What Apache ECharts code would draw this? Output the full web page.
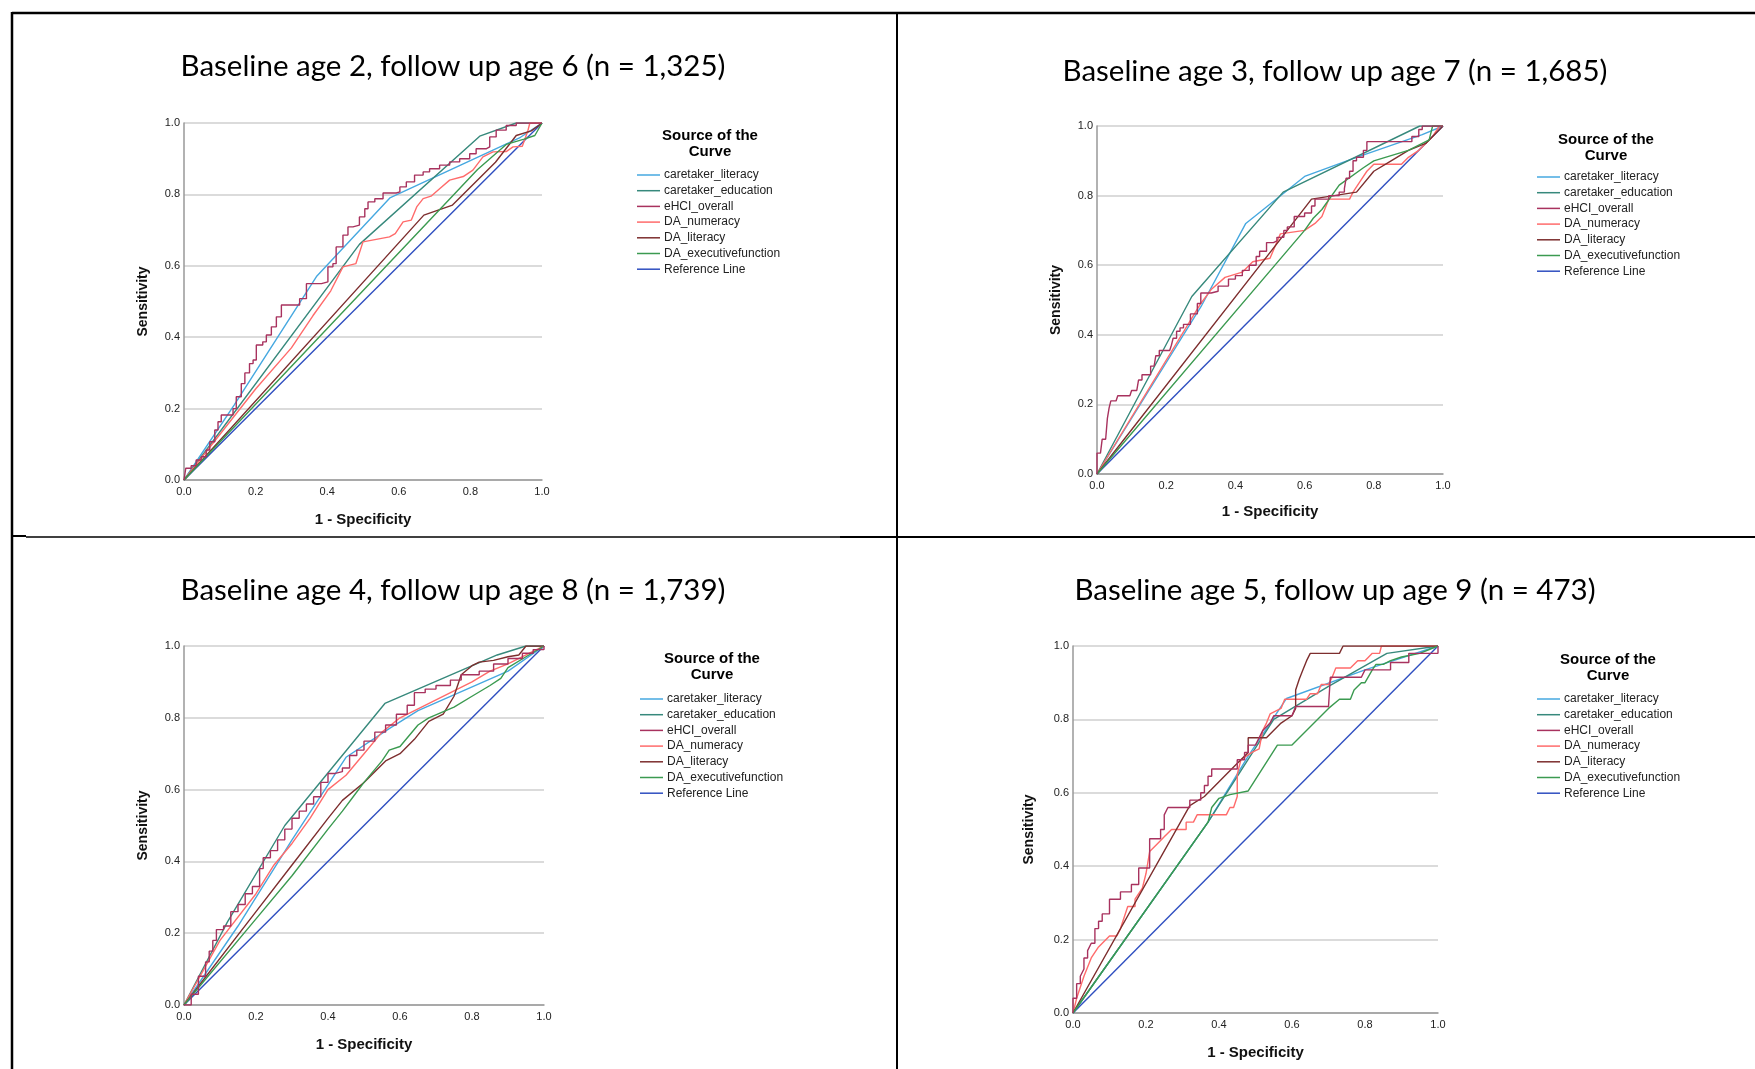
<!DOCTYPE html>
<html>
<head>
<meta charset="utf-8">
<script src="https://cdn.jsdelivr.net/npm/echarts@6/dist/echarts.min.js"></script>
<style>
html,body{margin:0;padding:0;background:#fff;}
#chart{width:1755px;height:1069px;}
</style>
</head>
<body>
<div id="chart"></div>
<script>
// ---------- DATA ----------
const panelTitles = [
  "Baseline age 2, follow up age 6 (n = 1,325)",
  "Baseline age 3, follow up age 7 (n = 1,685)",
  "Baseline age 4, follow up age 8 (n = 1,739)",
  "Baseline age 5, follow up age 9 (n = 473)"
];
const seriesNames = ["caretaker_literacy","caretaker_education","eHCI_overall","DA_numeracy","DA_literacy","DA_executivefunction","Reference Line"];
const tickValues = [0,0.2,0.4,0.6,0.8,1.0];
const legendTitle = ["Source of the","Curve"];
const xAxisName = "1 - Specificity";
const yAxisName = "Sensitivity";

// Panel 1: baseline age 2
const p1_caretaker_literacy = [[0,0],[0.14,0.21],[0.37,0.57],[0.575,0.79],[0.94,0.96],[1,1]];
const p1_caretaker_education = [[0,0],[0.49,0.66],[0.826,0.963],[0.928,1],[1,1]];
const p1_eHCI_overall = [[0,0],[0.005,0.033],[0.02,0.04],[0.034,0.056],[0.048,0.065],[0.062,0.084],[0.072,0.107],[0.086,0.14],[0.095,0.163],[0.104,0.182],[0.128,0.182],[0.137,0.2],[0.146,0.233],[0.16,0.27],[0.17,0.3],[0.183,0.326],[0.193,0.336],[0.202,0.378],[0.22,0.387],[0.23,0.406],[0.244,0.429],[0.258,0.457],[0.272,0.49],[0.314,0.49],[0.323,0.508],[0.342,0.55],[0.384,0.555],[0.402,0.597],[0.416,0.606],[0.425,0.653],[0.444,0.686],[0.458,0.709],[0.472,0.714],[0.49,0.737],[0.505,0.76],[0.514,0.779],[0.533,0.788],[0.556,0.804],[0.593,0.807],[0.603,0.821],[0.621,0.835],[0.644,0.854],[0.668,0.863],[0.686,0.872],[0.714,0.882],[0.742,0.891],[0.77,0.9],[0.798,0.914],[0.816,0.928],[0.845,0.933],[0.854,0.961],[0.872,0.98],[0.9,0.993],[0.928,1],[1,1]];
const p1_DA_numeracy = [[0,0],[0.2,0.255],[0.3,0.37],[0.36,0.46],[0.41,0.53],[0.444,0.597],[0.48,0.606],[0.5,0.667],[0.574,0.681],[0.59,0.69],[0.612,0.723],[0.635,0.728],[0.65,0.765],[0.668,0.788],[0.69,0.795],[0.714,0.816],[0.742,0.84],[0.78,0.85],[0.807,0.868],[0.835,0.905],[0.863,0.919],[0.9,0.92],[0.919,0.933],[0.945,0.935],[0.961,0.98],[0.966,1],[1,1]];
const p1_DA_literacy = [[0,0],[0.67,0.742],[0.75,0.77],[0.87,0.89],[0.928,0.965],[0.97,0.978],[1,1]];
const p1_DA_executivefunction = [[0,0],[0.82,0.87],[0.9,0.94],[0.95,0.955],[0.98,0.965],[1,1]];

// Panel 2: baseline age 3
const p2_caretaker_literacy = [[0,0],[0.3,0.48],[0.43,0.72],[0.6,0.855],[0.75,0.91],[0.94,0.975],[1,1]];
const p2_caretaker_education = [[0,0],[0.274,0.51],[0.538,0.81],[0.933,1],[1,1]];
const p2_eHCI_overall = [[0,0],[0,0.06],[0.01,0.06],[0.015,0.1],[0.025,0.1],[0.03,0.16],[0.035,0.19],[0.04,0.21],[0.055,0.21],[0.06,0.225],[0.095,0.225],[0.1,0.24],[0.115,0.24],[0.12,0.27],[0.13,0.285],[0.145,0.285],[0.155,0.31],[0.165,0.31],[0.17,0.34],[0.18,0.355],[0.21,0.355],[0.215,0.37],[0.22,0.39],[0.23,0.41],[0.24,0.42],[0.25,0.43],[0.27,0.46],[0.29,0.49],[0.3,0.52],[0.33,0.525],[0.35,0.54],[0.38,0.56],[0.4,0.57],[0.42,0.585],[0.44,0.6],[0.46,0.625],[0.47,0.64],[0.49,0.665],[0.51,0.67],[0.52,0.68],[0.54,0.7],[0.55,0.71],[0.57,0.74],[0.6,0.75],[0.62,0.77],[0.63,0.79],[0.65,0.79],[0.67,0.8],[0.7,0.81],[0.715,0.82],[0.72,0.85],[0.73,0.87],[0.74,0.9],[0.75,0.91],[0.77,0.93],[0.78,0.955],[0.9,0.955],[0.91,0.97],[0.93,0.99],[0.94,1],[1,1]];
const p2_DA_numeracy = [[0,0],[0.3,0.49],[0.33,0.53],[0.37,0.565],[0.42,0.58],[0.45,0.61],[0.5,0.62],[0.53,0.69],[0.6,0.7],[0.63,0.72],[0.65,0.74],[0.67,0.79],[0.73,0.79],[0.74,0.81],[0.76,0.84],[0.78,0.87],[0.8,0.89],[0.88,0.89],[0.9,0.91],[0.93,0.93],[0.95,0.95],[0.97,0.97],[0.99,1],[1,1]];
const p2_DA_literacy = [[0,0],[0.55,0.7],[0.62,0.79],[0.75,0.81],[0.8,0.87],[0.85,0.9],[0.9,0.93],[0.95,0.95],[0.98,0.98],[1,1]];
const p2_DA_executivefunction = [[0,0],[0.6,0.7],[0.625,0.735],[0.65,0.76],[0.7,0.83],[0.77,0.88],[0.8,0.9],[0.9,0.93],[0.96,0.96],[0.97,1],[1,1]];

// Panel 3: baseline age 4
const p3_caretaker_literacy = [[0,0],[0.15,0.22],[0.3,0.46],[0.45,0.69],[0.57,0.77],[0.65,0.82],[0.9,0.93],[1,1]];
const p3_caretaker_education = [[0,0],[0.12,0.23],[0.28,0.5],[0.558,0.84],[0.87,0.975],[0.95,1],[1,1]];
const p3_eHCI_overall = [[0,0],[0.02,0.03],[0.04,0.08],[0.06,0.12],[0.07,0.15],[0.08,0.18],[0.09,0.21],[0.11,0.22],[0.13,0.26],[0.15,0.28],[0.17,0.31],[0.19,0.33],[0.21,0.38],[0.22,0.41],[0.24,0.43],[0.26,0.46],[0.28,0.49],[0.3,0.52],[0.32,0.54],[0.34,0.56],[0.36,0.58],[0.38,0.62],[0.4,0.645],[0.42,0.65],[0.44,0.66],[0.46,0.695],[0.48,0.71],[0.5,0.735],[0.53,0.76],[0.56,0.78],[0.59,0.81],[0.62,0.835],[0.64,0.87],[0.67,0.88],[0.7,0.89],[0.74,0.905],[0.77,0.92],[0.82,0.93],[0.86,0.95],[0.9,0.965],[0.94,0.98],[0.97,0.99],[1,1]];
const p3_DA_numeracy = [[0,0],[0.1,0.18],[0.2,0.31],[0.25,0.39],[0.3,0.45],[0.35,0.52],[0.4,0.6],[0.45,0.64],[0.5,0.7],[0.55,0.76],[0.6,0.8],[0.65,0.825],[0.7,0.85],[0.75,0.875],[0.8,0.9],[0.85,0.93],[0.9,0.95],[0.95,0.975],[1,1]];
const p3_DA_literacy = [[0,0],[0.2,0.26],[0.3,0.39],[0.4,0.52],[0.44,0.57],[0.5,0.62],[0.56,0.68],[0.6,0.7],[0.64,0.74],[0.68,0.79],[0.72,0.81],[0.75,0.86],[0.77,0.92],[0.8,0.945],[0.82,0.955],[0.86,0.96],[0.9,0.97],[0.93,0.975],[0.95,1],[1,1]];
const p3_DA_executivefunction = [[0,0],[0.2,0.24],[0.3,0.36],[0.4,0.49],[0.44,0.54],[0.47,0.58],[0.5,0.62],[0.55,0.68],[0.57,0.71],[0.6,0.72],[0.65,0.78],[0.68,0.8],[0.75,0.83],[0.8,0.86],[0.85,0.89],[0.88,0.91],[0.9,0.94],[0.95,0.97],[1,1]];

// Panel 4: baseline age 5
const p4_caretaker_literacy = [[0,0],[0.37,0.52],[0.48,0.7],[0.585,0.857],[0.8,0.935],[1,1]];
const p4_caretaker_education = [[0,0],[0.37,0.52],[0.55,0.8],[0.6,0.83],[0.7,0.89],[0.86,0.98],[1,1]];
const p4_eHCI_overall = [[0,0],[0,0.04],[0.01,0.04],[0.01,0.08],[0.02,0.08],[0.02,0.1],[0.03,0.12],[0.03,0.15],[0.04,0.15],[0.04,0.17],[0.05,0.19],[0.06,0.19],[0.06,0.23],[0.07,0.23],[0.07,0.25],[0.08,0.25],[0.08,0.27],[0.1,0.27],[0.1,0.31],[0.13,0.31],[0.13,0.33],[0.16,0.33],[0.16,0.35],[0.18,0.35],[0.18,0.395],[0.21,0.395],[0.21,0.475],[0.24,0.475],[0.24,0.5],[0.25,0.5],[0.25,0.54],[0.26,0.56],[0.32,0.56],[0.32,0.58],[0.35,0.58],[0.35,0.6],[0.36,0.6],[0.36,0.62],[0.37,0.62],[0.37,0.645],[0.38,0.645],[0.38,0.665],[0.45,0.665],[0.45,0.69],[0.47,0.69],[0.47,0.71],[0.48,0.71],[0.48,0.73],[0.5,0.73],[0.52,0.77],[0.54,0.79],[0.55,0.81],[0.6,0.81],[0.61,0.835],[0.7,0.835],[0.705,0.915],[0.79,0.915],[0.8,0.935],[0.87,0.935],[0.87,0.955],[0.92,0.955],[0.92,0.98],[1,0.98],[1,1]];
const p4_DA_numeracy = [[0,0],[0.01,0.04],[0.03,0.1],[0.05,0.15],[0.07,0.18],[0.1,0.21],[0.12,0.21],[0.13,0.23],[0.15,0.29],[0.17,0.29],[0.17,0.31],[0.19,0.34],[0.2,0.38],[0.21,0.44],[0.23,0.46],[0.25,0.48],[0.27,0.5],[0.31,0.5],[0.31,0.52],[0.33,0.52],[0.34,0.54],[0.42,0.54],[0.43,0.56],[0.44,0.56],[0.45,0.59],[0.45,0.65],[0.46,0.69],[0.49,0.71],[0.51,0.72],[0.52,0.77],[0.53,0.79],[0.54,0.815],[0.57,0.83],[0.58,0.855],[0.64,0.855],[0.65,0.87],[0.67,0.87],[0.68,0.895],[0.7,0.895],[0.71,0.915],[0.72,0.94],[0.76,0.94],[0.78,0.96],[0.8,0.96],[0.82,0.98],[0.84,0.98],[0.845,1],[1,1]];
const p4_DA_literacy = [[0,0],[0.32,0.565],[0.36,0.59],[0.4,0.63],[0.44,0.67],[0.48,0.71],[0.48,0.75],[0.53,0.75],[0.57,0.79],[0.6,0.81],[0.61,0.83],[0.61,0.88],[0.62,0.91],[0.63,0.935],[0.64,0.96],[0.65,0.98],[0.73,0.98],[0.74,1],[1,1]];
const p4_DA_executivefunction = [[0,0],[0.37,0.52],[0.38,0.56],[0.4,0.585],[0.43,0.595],[0.48,0.605],[0.56,0.73],[0.6,0.73],[0.7,0.83],[0.73,0.855],[0.76,0.855],[0.77,0.88],[0.79,0.9],[0.8,0.9],[0.82,0.935],[0.83,0.95],[0.85,0.95],[0.87,0.96],[0.9,0.97],[0.95,0.98],[1,1]];

const referenceLine = [[0,0],[1,1]];

// ---------- STYLE / LAYOUT ----------
const colors = ['#46a8e0','#37897c','#a8325e','#ff6b6b','#7d2e2e','#3b9a50','#2f4fc0'];
const panelData = [
  [p1_caretaker_literacy,p1_caretaker_education,p1_eHCI_overall,p1_DA_numeracy,p1_DA_literacy,p1_DA_executivefunction,referenceLine],
  [p2_caretaker_literacy,p2_caretaker_education,p2_eHCI_overall,p2_DA_numeracy,p2_DA_literacy,p2_DA_executivefunction,referenceLine],
  [p3_caretaker_literacy,p3_caretaker_education,p3_eHCI_overall,p3_DA_numeracy,p3_DA_literacy,p3_DA_executivefunction,referenceLine],
  [p4_caretaker_literacy,p4_caretaker_education,p4_eHCI_overall,p4_DA_numeracy,p4_DA_literacy,p4_DA_executivefunction,referenceLine]
];
const stepped = [true,true,true,false];
const grids = [
  {left:184, top:123, width:358, height:357},
  {left:1097, top:126, width:346, height:348},
  {left:184, top:646, width:360, height:359},
  {left:1073, top:646, width:365, height:367}
];
const yNameGap = [34,34,34,37];
const xNameGap = [32,30,32,32];
const titlePos = [[453,66],[1335,71],[453,590],[1335,590]];
const legendPos = [
  {line:637, top:168, head:[710,136]},
  {line:1537, top:170, head:[1606,140]},
  {line:640, top:692, head:[712,659]},
  {line:1537, top:692, head:[1608,660]}
];

const chart = echarts.init(document.getElementById('chart'), null, {renderer:'canvas'});
const fmt = v => v.toFixed(1);

const xAxes = [], yAxes = [], series = [], legends = [], graphics = [];
grids.forEach((g, i) => {
  xAxes.push({
    type:'value', gridIndex:i, min:0, max:1, interval:0.2,
    name:xAxisName, nameLocation:'middle', nameGap:xNameGap[i],
    nameTextStyle:{fontFamily:'Liberation Sans', fontWeight:'bold', fontSize:15, color:'#111'},
    axisLine:{show:true, onZero:false, lineStyle:{color:'#999', width:1.5}},
    axisTick:{show:false},
    axisLabel:{formatter:fmt, fontFamily:'Liberation Sans', fontSize:11, color:'#222', margin:6},
    splitLine:{show:false}
  });
  yAxes.push({
    type:'value', gridIndex:i, min:0, max:1, interval:0.2,
    name:yAxisName, nameLocation:'middle', nameGap:yNameGap[i], nameRotate:90,
    nameTextStyle:{fontFamily:'Liberation Sans', fontWeight:'bold', fontSize:14, color:'#111'},
    axisLine:{show:true, onZero:false, lineStyle:{color:'#999', width:1.5}},
    axisTick:{show:false},
    axisLabel:{formatter:fmt, fontFamily:'Liberation Sans', fontSize:11, color:'#222', margin:4},
    splitLine:{show:true, lineStyle:{color:'#cfcfcf', width:1.5}}
  });
  panelData[i].forEach((d, k) => {
    series.push({
      type:'line', name:seriesNames[k], xAxisIndex:i, yAxisIndex:i,
      data:d, showSymbol:false, symbol:'none', animation:false,
      step:(k===2 && stepped[i]) ? 'end' : false,
      lineStyle:{color:colors[k], width:1.4},
      itemStyle:{color:colors[k]},
      z: (k===6?1:(k===2?4:3))
    });
  });
  legends.push({
    data:seriesNames, orient:'vertical', left:legendPos[i].line, top:legendPos[i].top,
    icon:'rect', itemWidth:23, itemHeight:1.5, itemGap:1.7, padding:0,
    selectedMode:false,
    textStyle:{fontFamily:'Liberation Sans', fontSize:12, color:'#222', lineHeight:14, padding:[0,0,0,-1]}
  });
  graphics.push({
    type:'text', x:titlePos[i][0], y:titlePos[i][1],
    style:{text:panelTitles[i], font:'29.5px Lato', fill:'#000', textAlign:'center', textVerticalAlign:'middle'}
  });
  legendTitle.forEach((t, j) => {
    graphics.push({
      type:'text', x:legendPos[i].head[0], y:legendPos[i].head[1] + j*16,
      style:{text:t, font:'bold 15px "Liberation Sans"', fill:'#000', textAlign:'center', textVerticalAlign:'middle'}
    });
  });
});

// frame lines
graphics.push(
  {type:'line', shape:{x1:12, y1:13, x2:1755, y2:13}, style:{stroke:'#000', lineWidth:2.5}},
  {type:'line', shape:{x1:12, y1:12, x2:12, y2:1069}, style:{stroke:'#000', lineWidth:2.5}},
  {type:'line', shape:{x1:897, y1:13, x2:897, y2:1069}, style:{stroke:'#000', lineWidth:2}},
  {type:'line', shape:{x1:12, y1:536, x2:26, y2:536}, style:{stroke:'#000', lineWidth:2}},
  {type:'line', shape:{x1:26, y1:537, x2:840, y2:537}, style:{stroke:'#000', lineWidth:1.3}},
  {type:'line', shape:{x1:840, y1:537, x2:1755, y2:537}, style:{stroke:'#000', lineWidth:2}}
);

chart.setOption({
  backgroundColor:'#fff',
  animation:false,
  grid:grids,
  xAxis:xAxes,
  yAxis:yAxes,
  legend:legends,
  series:series,
  graphic:graphics
});
</script>
</body>
</html>
